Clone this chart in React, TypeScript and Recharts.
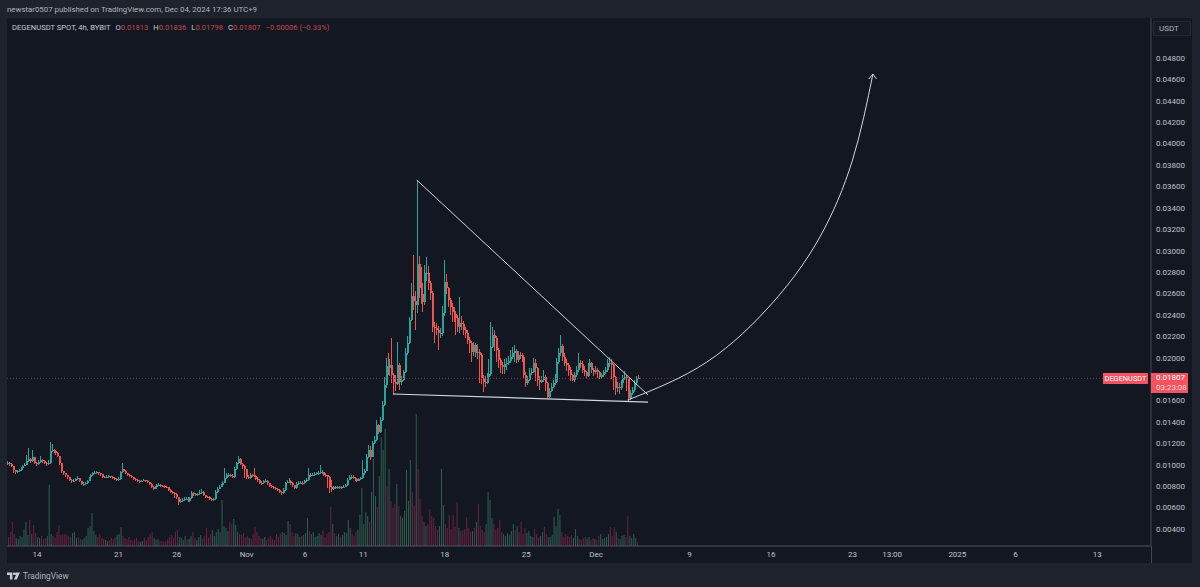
import { Bar, ComposedChart, Line, ReferenceLine, XAxis, YAxis } from 'recharts';

// prices are in 1e-5 USDT, x is days since Oct 14 (4h candles)
const FIRST_DAY = -2.575;
const DAYS_PER_CANDLE = 1 / 6;

const closes = [
  1019,1007,988,951,932,941,951,969,988,1001,
  1038,1057,1032,1069,1019,1007,1025,1044,1038,1019,
  1007,1019,1125,1138,1128,1113,1081,1013,938,920,
  901,882,857,845,851,863,873,845,820,823,
  826,851,882,901,920,926,929,920,910,888,
  882,888,892,885,879,864,857,870,932,957,
  945,920,907,895,882,870,857,845,839,851,
  857,851,839,820,795,776,789,807,814,804,
  798,795,789,764,745,739,727,695,652,664,
  670,677,683,664,
  686,733,727,717,723,739,748,717,702,695,
  683,670,677,748,776,795,807,832,873,901,
  907,895,888,957,1013,1050,1007,988,957,882,
  876,907,901,895,870,857,832,826,845,851,
  826,801,795,783,776,764,748,733,764,826,
  842,845,826,807,783,820,826,832,826,845,
  857,907,901,907,913,920,920,932,932,907,
  901,888,795,770,789,786,789,789,786,795,
  807,857,882,888,876,864,851,864,876,920,
  945,1075,1138,1075,1200,1231,
  1371,1306,1418,1558,1745,1923,1904,1932,1839,1773,
  1755,1932,1773,1792,1867,2044,2138,2352,2577,2530,
  2493,2876,2650,2600,2520,2791,2791,2698,2605,2287,
  2278,2259,2231,2231,2418,2707,2651,2539,2474,2427,
  2409,2371,2287,2324,2315,2259,2231,2166,2138,2054,
  2119,2044,2054,2025,1810,1773,1764,1820,1848,2100,
  2212,2184,2072,1979,1932,1913,
  1941,1953,1972,2009,2047,2065,1978,2028,2022,2003,
  1838,1760,1791,1854,1869,1953,1900,1791,1770,1791,
  1823,1760,1630,1692,1729,1760,1776,1963,2041,2109,
  2009,1953,1932,1885,1838,1791,1838,1885,1947,1941,
  1885,1869,1829,1916,1953,1885,1869,1885,1869,1823,
  1838,1869,1885,1947,1953,1932,1816,1714,1729,1714,
  1760,1807,1823,1807,1620,1667,1698,1760,1813,1807,
];

const highs = [
  1032,1028,1012,992,955,952,962,978,998,1012,
  1090,1153,1062,1137,1072,1030,1040,1085,1050,1042,
  1025,1040,1215,1190,1150,1132,1118,1085,1020,945,
  925,905,888,865,868,880,892,878,850,838,
  842,860,890,912,930,938,945,935,922,915,
  895,900,905,898,892,882,872,885,945,1013,
  965,948,925,915,902,888,875,864,855,860,
  868,862,855,842,825,798,798,818,826,820,
  812,808,802,792,770,752,745,732,700,682,
  690,695,700,695,
  700,755,745,738,736,760,770,755,722,712,
  705,690,692,765,790,810,820,845,966,925,
  925,918,910,975,1030,1078,1060,1020,1000,965,
  900,925,918,966,900,885,865,850,862,868,
  860,832,812,802,795,785,770,755,782,840,
  862,875,855,835,812,835,845,850,845,860,
  878,966,925,925,932,935,945,997,955,935,
  920,905,895,857,800,800,802,802,800,810,
  822,872,900,905,900,885,872,880,890,1044,
  965,1100,1180,1175,1225,1265,
  1420,1385,1450,1600,1820,2000,2044,1990,2184,1860,
  1835,2147,1950,1830,1890,2090,2200,2380,2700,2960,
  2620,3660,2950,2850,2700,2870,2940,2860,2720,2620,
  2330,2320,2300,2280,2480,2913,2780,2660,2560,2510,
  2470,2440,2400,2567,2390,2340,2290,2260,2190,2160,
  2150,2140,2130,2080,2040,1840,1830,1860,1990,2334,
  2290,2260,2200,2090,2000,1960,
  1990,2000,2020,2070,2100,2119,2080,2060,2050,2040,
  2010,1870,1830,1900,1900,1994,1990,1910,1830,1830,
  1890,1840,1770,1720,1760,1790,1850,2000,2090,2212,
  2130,2040,1990,1950,1910,1850,1870,1920,2040,1980,
  1970,1920,1880,1950,1985,1960,1900,1920,1900,1880,
  1860,1890,1910,1985,2005,1985,1940,1830,1770,1760,
  1790,1840,1880,1840,1815,1700,1730,1790,1825,1836,
];

const lows = [
  1000,992,975,925,918,925,935,945,965,985,
  995,1028,1020,1025,1005,992,1002,1020,1015,1005,
  990,995,1005,1115,1110,1095,1070,1000,925,905,
  888,868,848,832,836,848,855,838,812,805,
  815,820,845,876,895,912,918,908,898,880,
  872,875,880,876,868,856,845,848,862,925,
  930,910,898,885,872,862,848,838,830,835,
  845,842,830,810,785,760,770,785,805,795,
  788,785,780,755,738,728,688,678,625,645,
  652,660,668,655,
  655,680,712,705,708,715,730,708,690,685,
  672,660,660,672,740,770,790,800,825,865,
  890,882,875,880,950,1005,995,965,878,865,
  865,870,888,882,860,842,822,815,818,835,
  815,790,782,775,765,752,738,722,728,758,
  825,832,815,795,775,778,812,820,812,820,
  840,850,885,892,895,905,905,915,915,895,
  888,780,733,750,765,775,778,775,775,780,
  790,800,855,870,865,852,842,845,860,870,
  905,940,1060,1040,1070,1195,
  1225,1285,1295,1410,1550,1720,1840,1830,1760,1652,
  1690,1745,1700,1745,1780,1860,2030,2130,2340,2450,
  2258,2418,2560,2500,2430,2490,2720,2630,2540,2240,
  2138,2215,2072,2180,2200,2390,2600,2470,2400,2330,
  2330,2212,2240,2230,2260,2210,2180,2130,2040,1960,
  2020,2010,1990,1760,1750,1680,1730,1750,1810,1830,
  2090,2060,1960,1900,1860,1850,
  1850,1890,1930,1950,1990,1960,1950,1960,1990,1960,
  1810,1730,1745,1780,1840,1860,1780,1740,1700,1760,
  1770,1690,1620,1625,1680,1720,1745,1760,1940,2020,
  1970,1920,1880,1830,1780,1780,1770,1820,1870,1900,
  1860,1830,1800,1820,1890,1860,1830,1850,1810,1800,
  1800,1820,1845,1870,1915,1800,1700,1650,1680,1660,
  1700,1745,1790,1690,1585,1605,1650,1680,1745,1798,
];

const volumes = [
  10,9,14,24,12,8,7,10,9,16,
  24,11,26,12,21,13,9,8,10,7,
  8,10,61,12,10,8,14,21,11,12,
  12,11,10,9,13,14,8,9,7,6,
  8,10,18,20,33,15,11,9,12,8,
  7,6,5,6,8,7,9,11,12,19,
  10,8,7,9,6,5,7,8,5,4,
  5,8,6,9,12,14,8,6,7,5,
  5,4,5,7,9,11,8,14,16,9,
  8,6,10,7,
  7,10,14,8,6,9,
  11,7,10,18,8,12,16,10,14,17,
  14,46,20,18,15,24,22,27,21,14,
  12,11,13,9,10,8,7,12,19,14,
  10,8,7,9,6,8,10,7,6,12,
  9,12,14,13,11,25,22,14,10,13,
  12,9,10,11,13,28,15,12,14,9,
  10,13,11,16,9,12,14,39,22,13,
  10,12,9,11,14,13,26,18,12,10,
  14,16,31,58,22,34,30,24,54,87,
  50,39,70,109,96,117,60,77,45,38,
  42,62,40,30,28,35,76,45,86,54,
  40,132,77,47,30,24,20,22,37,30,
  28,20,16,20,77,41,22,18,31,17,
  31,19,44,18,15,16,17,29,18,14,
  15,18,24,42,20,16,14,22,54,46,
  28,22,16,18,26,14,12,10,13,11,
  15,22,16,20,14,24,12,18,13,15,
  10,9,17,12,8,10,14,19,12,9,
  9,11,29,20,37,31,14,9,12,10,
  9,11,8,17,10,7,6,8,9,7,
  9,6,8,7,6,10,12,7,8,9,
  12,19,10,19,14,8,7,10,11,9,
  30,10,8,12,8,4,
];

const priceTicks = [
  400, 600, 800, 1000, 1200, 1400, 1600, 1800, 2000, 2200, 2400, 2600,
  2800, 3000, 3200, 3400, 3600, 3800, 4000, 4200, 4400, 4600, 4800,
];
const timeTickDays = [0, 7, 12, 18, 23, 28, 35, 42, 48, 56, 63, 70, 73.4, 79, 84, 91];
const timeTickLabels = ['14', '21', '26', 'Nov', '6', '11', '18', '25', 'Dec', '9', '16', '23', '13:00', '2025', '6', '13'];

const lastPrice = 1807;

// hand drawn lines as [day, price]
const upperTrendDays = [32.6, 52.45];
const upperTrendPrices = [3660, 1652];
const lowerTrendDays = [30.56, 52.45];
const lowerTrendPrices = [1661, 1586];
const arrowDays = [50.7, 57.5, 63.2, 67.2, 70.0, 71.75];
const arrowPrices = [1605, 1960, 2521, 3128, 3847, 4651];
const arrowHeadDays = [71.4, 71.75, 72.05];
const arrowHeadPrices = [4604, 4651, 4604];

const toPoints = (days: number[], prices: number[]) =>
  days.map((day, i) => ({ day, price: prices[i] }));

const candles = closes.map((close, i) => ({
  day: FIRST_DAY + i * DAYS_PER_CANDLE,
  open: i === 0 ? close : closes[i - 1],
  close,
  high: highs[i],
  low: lows[i],
  range: [lows[i], highs[i]],
  volume: volumes[i],
}));

const UP = '#26a69a';
const DOWN = '#ef5350';

function Candle({ x, y, width, height, payload }: any) {
  const { open, close, high, low } = payload;
  const pxPerUnit = height / (high - low);
  const top = y + (high - Math.max(open, close)) * pxPerUnit;
  const bodyHeight = Math.max(Math.abs(open - close) * pxPerUnit, 1);
  const color = close >= open ? UP : DOWN;
  // snap to whole pixels, blended neighbours turn gray otherwise
  const left = Math.round(x);
  return (
    <g shapeRendering="crispEdges">
      <rect x={left} y={y} width={1} height={height} fill={color} />
      <rect x={left} y={top} width={2} height={bodyHeight} fill={color} />
    </g>
  );
}

function VolumeBar({ x, y, width, height, payload }: any) {
  return (
    <rect
      x={x}
      y={y}
      width={width}
      height={height}
      fill={payload.close >= payload.open ? '#2f5f50' : '#6a2440'}
    />
  );
}

const formatPrice = (v: number) => (v / 100000).toFixed(5);
const formatDay = (d: number) => timeTickLabels[timeTickDays.indexOf(d)] ?? '';

export default function App() {
  return (
    <div style={styles.page}>
      <div style={styles.publisher}>newstar0507 published on TradingView.com, Dec 04, 2024 17:36 UTC+9</div>
      <div style={styles.panel} />
      <div style={styles.axisLine} />

      <div style={{ position: 'absolute', left: 0, top: 0 }}>
        <ComposedChart
          width={1200}
          height={587}
          data={candles}
          margin={{ top: 18, right: 0, bottom: 24, left: 7 }}
        >
          <XAxis
            dataKey="day"
            type="number"
            domain={[-2.575, 95.62]}
            allowDataOverflow
            ticks={timeTickDays}
            interval={0}
            tickFormatter={formatDay}
            height={17}
            stroke="#50535e"
            tickLine={false}
            tickSize={0}
            tickMargin={5}
            tick={{ fontSize: 8, fill: '#c0c3cb', fontFamily: 'Roboto' }}
          />
          <XAxis xAxisId="vol" dataKey="day" type="number" domain={[-2.575, 95.62]} allowDataOverflow hide />
          <YAxis
            yAxisId="price"
            orientation="right"
            width={49}
            domain={[241, 5174]}
            allowDataOverflow
            ticks={priceTicks}
            interval={0}
            tickFormatter={formatPrice}
            stroke="#434651"
            tickLine={false}
            tickSize={0}
            tickMargin={5}
            tick={{ fontSize: 8, fill: '#c0c3cb', fontFamily: 'Roboto' }}
          />
          <YAxis yAxisId="vol" domain={[0, 528]} allowDataOverflow hide />

          <Bar
            xAxisId="vol"
            yAxisId="vol"
            dataKey="volume"
            barSize={1}
            shape={VolumeBar}
            isAnimationActive={false}
          />
          <ReferenceLine yAxisId="price" y={lastPrice} stroke="#7a3040" strokeDasharray="1 2" />
          <Bar
            yAxisId="price"
            dataKey="range"
            barSize={2}
            shape={Candle}
            isAnimationActive={false}
          />
          <Line
            yAxisId="price"
            data={toPoints(upperTrendDays, upperTrendPrices)}
            dataKey="price"
            type="linear"
            stroke="#d1d4dc"
            strokeWidth={1}
            dot={false}
            isAnimationActive={false}
          />
          <Line
            yAxisId="price"
            data={toPoints(lowerTrendDays, lowerTrendPrices)}
            dataKey="price"
            type="linear"
            stroke="#d1d4dc"
            strokeWidth={1.2}
            dot={false}
            isAnimationActive={false}
          />
          <Line
            yAxisId="price"
            data={toPoints(arrowDays, arrowPrices)}
            dataKey="price"
            type="natural"
            stroke="#d1d4dc"
            strokeWidth={1}
            dot={false}
            isAnimationActive={false}
          />
          <Line
            yAxisId="price"
            data={toPoints(arrowHeadDays, arrowHeadPrices)}
            dataKey="price"
            type="linear"
            stroke="#d1d4dc"
            strokeWidth={1}
            dot={false}
            isAnimationActive={false}
          />
        </ComposedChart>
      </div>

      <div style={styles.legend}>
        <span style={{ color: '#c8cbd3' }}>DEGENUSDT SPOT, 4h, BYBIT</span>
        <span>O<b style={styles.down}>0.01813</b></span>
        <span>H<b style={styles.down}>0.01836</b></span>
        <span>L<b style={styles.down}>0.01798</b></span>
        <span>C<b style={styles.down}>0.01807</b></span>
        <b style={styles.down}>−0.00006 (−0.33%)</b>
      </div>

      <div style={styles.unit}>USDT</div>
      <div style={styles.symbolTag}>DEGENUSDT</div>
      <div style={styles.priceTag}>
        <div>0.01807</div>
        <div style={{ opacity: 0.75 }}>03:23:08</div>
      </div>

      <div style={styles.brand}>
        <svg width={13} height={8} viewBox="0 0 36 20" style={{ marginRight: 3 }}>
          <path d="M0 0h15v20H8V7H0zM24 0h12l-9 20h-8l6-13h-5z" fill="#c8cbd3" />
          <circle cx="20" cy="3.5" r="3.5" fill="#c8cbd3" />
        </svg>
        TradingView
      </div>
    </div>
  );
}

const font = 'Roboto, sans-serif';

const styles: Record<string, React.CSSProperties> = {
  page: {
    position: 'fixed',
    left: 0,
    top: 0,
    width: 1200,
    height: 587,
    overflow: 'hidden',
    background: '#1e222d',
    fontFamily: font,
  },
  publisher: {
    position: 'absolute',
    left: 7,
    top: 4,
    fontSize: 7.85,
    lineHeight: '11px',
    color: '#b2b5be',
    whiteSpace: 'nowrap',
  },
  panel: {
    position: 'absolute',
    left: 7,
    top: 18,
    width: 1185,
    height: 545,
    background: '#131722',
  },
  axisLine: {
    position: 'absolute',
    left: 1151,
    top: 546,
    width: 1,
    height: 17,
    background: '#434651',
  },
  legend: {
    position: 'absolute',
    left: 12,
    top: 22,
    display: 'flex',
    gap: 5,
    fontSize: 7.6,
    lineHeight: '11px',
    color: '#c8cbd3',
    whiteSpace: 'nowrap',
  },
  down: {
    color: '#c2474a',
    fontWeight: 400,
  },
  unit: {
    position: 'absolute',
    left: 1153,
    top: 21,
    width: 38,
    height: 15,
    boxSizing: 'border-box',
    paddingLeft: 5,
    fontSize: 8,
    lineHeight: '14px',
    color: '#b2b5be',
    background: '#171b26',
    border: '1px solid #252935',
  },
  symbolTag: {
    position: 'absolute',
    left: 1103,
    top: 373,
    width: 45,
    height: 11,
    fontSize: 7.4,
    lineHeight: '11px',
    textAlign: 'center',
    color: '#ffffff',
    background: '#f7525f',
  },
  priceTag: {
    position: 'absolute',
    left: 1151,
    top: 373,
    width: 37,
    height: 20,
    paddingLeft: 5,
    boxSizing: 'border-box',
    fontSize: 8,
    lineHeight: '10px',
    color: '#ffffff',
    background: '#f7525f',
  },
  brand: {
    position: 'absolute',
    left: 7,
    top: 570,
    display: 'flex',
    alignItems: 'center',
    fontSize: 8.3,
    lineHeight: '12px',
    color: '#b2b5be',
  },
};
